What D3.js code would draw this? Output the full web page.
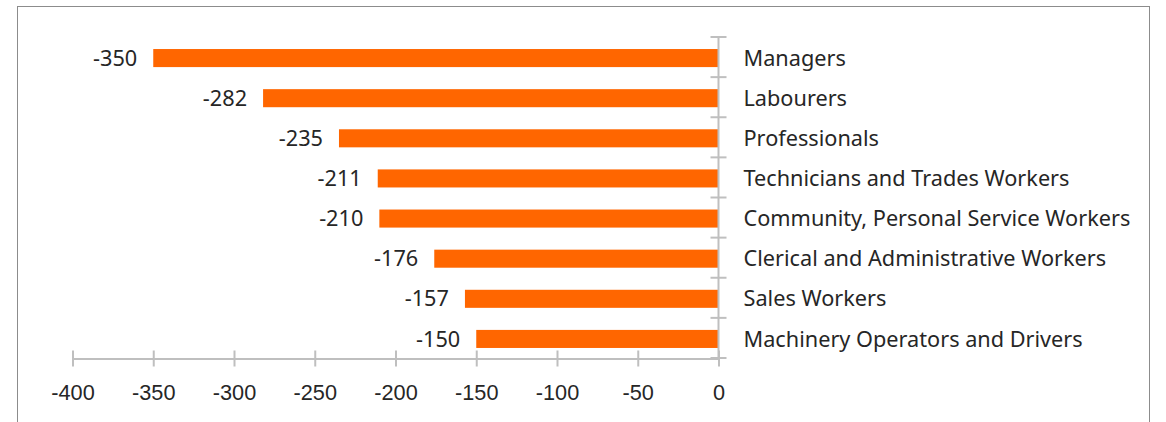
<!DOCTYPE html>
<html>
<head>
<meta charset="utf-8">
<script src="https://cdn.jsdelivr.net/npm/d3@7"></script>
<style>
  html, body { margin: 0; padding: 0; background: #fff; }
  svg { display: block; font-family: "Segoe UI", "Noto Sans", "Open Sans", sans-serif; }
</style>
</head>
<body>
<svg id="chart" width="1166" height="422"></svg>
<script>
// occupations, top to bottom
let categories = [
  "Managers",
  "Labourers",
  "Professionals",
  "Technicians and Trades Workers",
  "Community, Personal Service Workers",
  "Clerical and Administrative Workers",
  "Sales Workers",
  "Machinery Operators and Drivers"
];
let values = [-350, -282, -235, -211, -210, -176, -157, -150];
let xTicks = [-400, -350, -300, -250, -200, -150, -100, -50, 0];

let barColor = '#ff6600';
let axisColor = '#bfbfbf';
let textColor = '#262626';
let fontSize = 21.7;

let svg = d3.select('#chart');

// frame round the chart
svg.append('rect')
  .attr('x', 17.5).attr('y', 6.5)
  .attr('width', 1132).attr('height', 430)
  .attr('fill', 'none')
  .attr('stroke', '#8c8c8c')
  .attr('stroke-width', 1);

let x = d3.scaleLinear().domain([-400, 0]).range([72.5, 718.5]);
let y = d3.scaleBand().domain(categories).range([38, 359]).paddingInner(0.55).paddingOuter(0.275);

// plain hyphen for negatives, like the original
let fmt = d => String(d);

// bars
svg.append('g').selectAll('rect')
  .data(values)
  .join('rect')
  .attr('x', d => x(d))
  .attr('y', (d, i) => y(categories[i]))
  .attr('width', d => x(0) - x(d))
  .attr('height', y.bandwidth())
  .attr('fill', barColor);

// value labels at the end of each bar
svg.append('g').selectAll('text')
  .data(values)
  .join('text')
  .attr('x', d => x(d) - 16)
  .attr('y', (d, i) => y(categories[i]) + y.bandwidth() / 2)
  .attr('dy', '0.35em')
  .attr('text-anchor', 'end')
  .attr('font-size', fontSize)
  .attr('fill', textColor)
  .text(fmt);

// bottom value axis
let xAxis = d3.axisBottom(x)
  .tickValues(xTicks)
  .tickFormat(fmt)
  .tickSizeInner(0)
  .tickSizeOuter(0)
  .tickPadding(26);

let gx = svg.append('g')
  .attr('transform', 'translate(0,358.5)')
  .call(xAxis);
gx.select('.domain').attr('stroke', axisColor).attr('stroke-width', 2);
gx.selectAll('.tick line').remove();
gx.selectAll('.tick').append('line')
  .attr('y1', -8).attr('y2', 8)
  .attr('stroke', axisColor).attr('stroke-width', 2);
gx.selectAll('.tick text')
  .attr('font-size', fontSize)
  .attr('font-family', null)
  .attr('fill', textColor);

// category axis at zero, ticks between bands
let boundaries = d3.range(categories.length + 1).map(i => 37 + i * (358 - 37) / categories.length);

let gy = svg.append('g');
gy.append('line')
  .attr('x1', x(0)).attr('x2', x(0))
  .attr('y1', boundaries[0]).attr('y2', boundaries[boundaries.length - 1])
  .attr('stroke', axisColor).attr('stroke-width', 2);
gy.selectAll('line.tk')
  .data(boundaries)
  .join('line')
  .attr('class', 'tk')
  .attr('x1', x(0) - 8).attr('x2', x(0) + 8)
  .attr('y1', d => d).attr('y2', d => d)
  .attr('stroke', axisColor).attr('stroke-width', 2);

gy.selectAll('text')
  .data(categories)
  .join('text')
  .attr('x', x(0) + 25)
  .attr('y', d => y(d) + y.bandwidth() / 2)
  .attr('dy', '0.35em')
  .attr('font-size', fontSize)
  .attr('fill', textColor)
  .text(d => d);
</script>
</body>
</html>
